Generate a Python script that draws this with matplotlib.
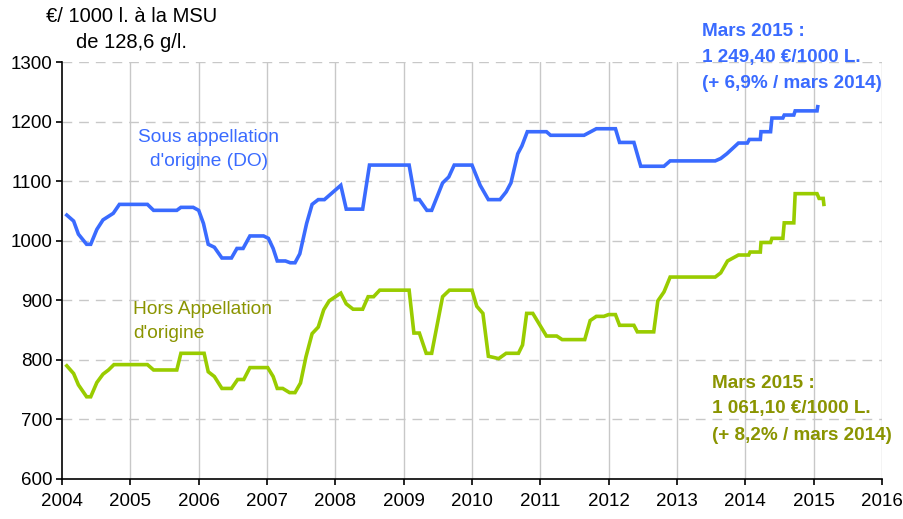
import matplotlib
matplotlib.use("Agg")
import matplotlib.pyplot as plt

plt.rcParams['font.family'] = ['Liberation Sans', 'DejaVu Sans']

# prix sous appellation d'origine (DO)
do_dates = [2004.07, 2004.17, 2004.24, 2004.36, 2004.42, 2004.51, 2004.60, 2004.75, 2004.84,
            2005.25, 2005.34, 2005.68, 2005.74, 2005.92, 2006.00, 2006.07, 2006.14, 2006.23,
            2006.34, 2006.48, 2006.56, 2006.65, 2006.75, 2006.95, 2007.02, 2007.09, 2007.15,
            2007.27, 2007.34, 2007.41, 2007.48, 2007.58, 2007.66, 2007.75, 2007.84, 2007.91,
            2008.08, 2008.16, 2008.40, 2008.50, 2009.08, 2009.17, 2009.23, 2009.34, 2009.41,
            2009.57, 2009.66, 2009.74, 2010.00, 2010.12, 2010.24, 2010.41, 2010.50, 2010.57,
            2010.67, 2010.73, 2010.81, 2011.09, 2011.15, 2011.64, 2011.82, 2012.10, 2012.16,
            2012.37, 2012.47, 2012.81, 2012.90, 2013.56, 2013.64, 2013.73, 2013.90, 2014.03,
            2014.06, 2014.22, 2014.23, 2014.37, 2014.39, 2014.55, 2014.57, 2014.71, 2014.73,
            2015.05, 2015.06]
do_values = [1043, 1033, 1011, 994, 994, 1019, 1035, 1046, 1061,
             1061, 1051, 1051, 1056, 1056, 1051, 1029, 994, 989,
             971, 971, 987, 987, 1008, 1008, 1004, 987, 966,
             966, 963, 963, 978, 1029, 1061, 1069, 1069, 1076,
             1093, 1053, 1053, 1127, 1127, 1069, 1069, 1051, 1051,
             1097, 1107, 1127, 1127, 1093, 1069, 1069, 1082, 1097,
             1146, 1159, 1183, 1183, 1177, 1177, 1188, 1188, 1165,
             1165, 1125, 1125, 1134, 1134, 1138, 1146, 1164, 1164,
             1170, 1170, 1183, 1183, 1206, 1206, 1211, 1211, 1218,
             1218, 1225]

# prix hors appellation d'origine
hors_dates = [2004.07, 2004.17, 2004.24, 2004.36, 2004.42, 2004.51, 2004.60, 2004.68, 2004.76,
              2005.25, 2005.34, 2005.68, 2005.74, 2006.08, 2006.14, 2006.23, 2006.34, 2006.48,
              2006.57, 2006.66, 2006.75, 2007.01, 2007.09, 2007.15, 2007.23, 2007.33, 2007.41,
              2007.49, 2007.57, 2007.66, 2007.75, 2007.83, 2007.91, 2008.08, 2008.16, 2008.26,
              2008.40, 2008.48, 2008.56, 2008.65, 2009.08, 2009.15, 2009.23, 2009.33, 2009.41,
              2009.57, 2009.67, 2010.00, 2010.07, 2010.16, 2010.24, 2010.32, 2010.39, 2010.50,
              2010.68, 2010.74, 2010.80, 2010.89, 2011.09, 2011.24, 2011.32, 2011.65, 2011.73,
              2011.82, 2011.93, 2012.00, 2012.10, 2012.16, 2012.37, 2012.42, 2012.66, 2012.72,
              2012.81, 2012.90, 2013.56, 2013.64, 2013.74, 2013.90, 2014.05, 2014.07, 2014.22,
              2014.23, 2014.37, 2014.39, 2014.55, 2014.57, 2014.71, 2014.73, 2015.05, 2015.08,
              2015.14, 2015.15]
hors_values = [790, 777, 758, 738, 738, 762, 776, 783, 792,
               792, 783, 783, 811, 811, 780, 772, 752, 752,
               767, 767, 787, 787, 772, 752, 752, 745, 745,
               761, 805, 844, 855, 884, 899, 912, 894, 885,
               885, 906, 906, 917, 917, 845, 845, 811, 811,
               906, 917, 917, 890, 878, 806, 804, 802, 811,
               811, 825, 878, 878, 840, 840, 834, 834, 866,
               873, 873, 876, 876, 858, 858, 847, 847, 899,
               914, 939, 939, 946, 966, 976, 976, 981, 981,
               997, 997, 1004, 1004, 1030, 1030, 1079, 1079, 1071,
               1071, 1061]

year_ticks = list(range(2004, 2017))
value_ticks = list(range(600, 1301, 100))

blue = '#3A6BFF'
green = '#99CC00'
olive = '#8A9400'

fig = plt.figure(figsize=(9.04, 5.19), dpi=100)
ax = fig.add_axes([0.0686, 0.0771, 0.907, 0.8034])

ax.plot(do_dates, do_values, color=blue, lw=2.6, solid_joinstyle='miter', zorder=3)
ax.plot(hors_dates, hors_values, color=green, lw=2.6, solid_joinstyle='miter', zorder=3)

ax.set_xlim(2004, 2016)
ax.set_ylim(600, 1300)
ax.set_xticks(year_ticks)
ax.set_yticks(value_ticks)
ax.set_xticklabels([str(y) for y in year_ticks])

for y in year_ticks[1:]:
    ax.axvline(y, color='#C8C8C8', lw=1, zorder=1)
for v in value_ticks[1:]:
    ax.axhline(v, color='#C8C8C8', lw=1, ls=(0, (7, 5)), zorder=1)

for side in ['top', 'right']:
    ax.spines[side].set_visible(False)
ax.spines['left'].set_linewidth(1.2)
ax.spines['bottom'].set_linewidth(1.2)
ax.tick_params(axis='both', direction='out', length=4, width=1.2, labelsize=13.5)
ax.tick_params(axis='x', pad=6)
ax.tick_params(axis='y', pad=3)

fig.text(132 / 904, 1 - 17 / 519, "€/ 1000 l. à la MSU", ha='center', va='center', fontsize=14.5)
fig.text(131 / 904, 1 - 43 / 519, "de 128,6 g/l.", ha='center', va='center', fontsize=14.5)

fig.text(209 / 904, 1 - 137 / 519, "Sous appellation", ha='center', va='center',
         fontsize=13.8, color=blue)
fig.text(209 / 904, 1 - 162 / 519, "d'origine (DO)", ha='center', va='center',
         fontsize=13.8, color=blue)
fig.text(133 / 904, 1 - 309 / 519, "Hors Appellation", ha='left', va='center',
         fontsize=13.8, color=olive)
fig.text(133 / 904, 1 - 333 / 519, "d'origine", ha='left', va='center',
         fontsize=13.8, color=olive)

blue_note = ["Mars 2015 :", "1 249,40 €/1000 L.", "(+ 6,9% / mars 2014)"]
for i, line in enumerate(blue_note):
    fig.text(702 / 904, 1 - (32 + 25.5 * i) / 519, line, ha='left', va='center',
             fontsize=13.6, fontweight='bold', color=blue)

green_note = ["Mars 2015 :", "1 061,10 €/1000 L.", "(+ 8,2% / mars 2014)"]
for i, line in enumerate(green_note):
    fig.text(712 / 904, 1 - (383 + 26 * i) / 519, line, ha='left', va='center',
             fontsize=13.6, fontweight='bold', color=olive)

fig.savefig("out.png", dpi=100)
